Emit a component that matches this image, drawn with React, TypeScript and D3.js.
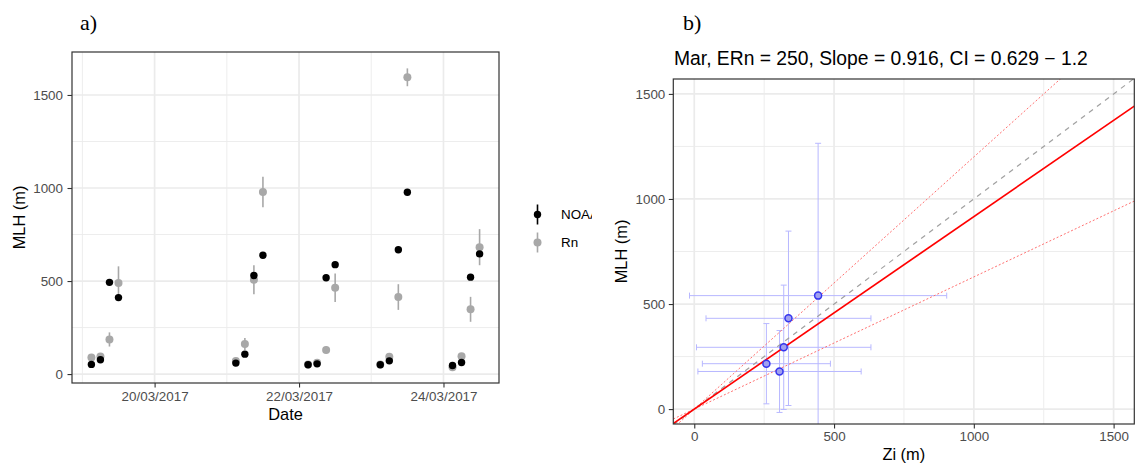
import { useEffect, useRef } from 'react';
import * as d3 from 'd3';

// panel a: MLH time series, 3-hourly samples
const sampleTimes = [
    '2017-03-19T03:00', '2017-03-19T06:00', '2017-03-19T09:00', '2017-03-19T12:00',
    '2017-03-21T03:00', '2017-03-21T06:00', '2017-03-21T09:00', '2017-03-21T12:00',
    '2017-03-22T03:00', '2017-03-22T06:00', '2017-03-22T09:00', '2017-03-22T12:00',
    '2017-03-23T03:00', '2017-03-23T06:00', '2017-03-23T09:00', '2017-03-23T12:00',
    '2017-03-24T03:00', '2017-03-24T06:00', '2017-03-24T09:00', '2017-03-24T12:00',
];
const noaaMLH = [52, 77, 493, 411, 59, 107, 530, 639, 50, 55, 518, 588, 50, 71, 668, 977, 46, 62, 521, 646];
const rnMLH = [89, 95, 186, 489, 70, 162, 507, 979, 52, 61, 130, 464, 52, 93, 414, 1595, 37, 96, 348, 682];
const rnErr = [10, 10, 38, 90, 10, 32, 78, 82, 8, 10, 18, 77, 8, 12, 69, 48, 8, 12, 67, 97];
const seriesNames = ['NOAA', 'Rn'];
const dateTicks = ['2017-03-20', '2017-03-22', '2017-03-24'];
const dateMinor = ['2017-03-19', '2017-03-21', '2017-03-23'];

// panel b: Zi vs MLH scatter
const ziValues = [443, 337, 320, 258, 305];
const ziErr = [460, 295, 312, 229, 292];
const mlhValues = [540, 432, 294, 216, 179];
const mlhErr = [725, 415, 296, 191, 195];
const fitSlope = 0.916;
const ciLow = 0.629;
const ciHigh = 1.2;
const bTitle = 'Mar, ERn = 250, Slope = 0.916, CI = 0.629 \u2212 1.2';

const majorTicks = [0, 500, 1000, 1500];
const minorTicks = [250, 750, 1250];

const FONT = 'Liberation Sans, Arial, Helvetica, sans-serif';
const GRID = '#ebebeb';
const GREY_PT = '#a8a8a8';

export default function App() {
    const svgRef = useRef<SVGSVGElement>(null);

    useEffect(() => {
        document.body.style.margin = '0';
        const svg = d3.select(svgRef.current);
        svg.selectAll('*').remove();

        const styleAxis = (g: any) => {
            g.select('.domain').remove();
            g.selectAll('line').attr('stroke', '#333333').attr('stroke-width', 1.1);
            g.selectAll('text').attr('fill', '#4d4d4d').style('font-size', '13.4px').style('font-family', FONT);
        };

        // ---------- panel a ----------
        const a = { l: 72, r: 499, t: 52, b: 383 };
        const parse = d3.utcParse('%Y-%m-%dT%H:%M');
        const parseDay = d3.utcParse('%Y-%m-%d');
        const times = sampleTimes.map(s => parse(s) as Date);
        const [t0, t1] = d3.extent(times) as [Date, Date];
        const pad = (t1.getTime() - t0.getTime()) * 0.05;
        const xa = d3.scaleUtc()
            .domain([new Date(t0.getTime() - pad), new Date(t1.getTime() + pad)])
            .range([a.l, a.r]);
        const ya = d3.scaleLinear().domain([-48, 1731]).range([a.b, a.t]);

        const ga = svg.append('g');
        ga.append('rect').attr('x', a.l).attr('y', a.t).attr('width', a.r - a.l).attr('height', a.b - a.t).attr('fill', '#fff');
        minorTicks.forEach(v => ga.append('line').attr('x1', a.l).attr('x2', a.r).attr('y1', ya(v)).attr('y2', ya(v)).attr('stroke', GRID).attr('stroke-width', 0.9));
        dateMinor.forEach(d => { const px = xa(parseDay(d) as Date); ga.append('line').attr('x1', px).attr('x2', px).attr('y1', a.t).attr('y2', a.b).attr('stroke', GRID).attr('stroke-width', 0.9); });
        majorTicks.forEach(v => ga.append('line').attr('x1', a.l).attr('x2', a.r).attr('y1', ya(v)).attr('y2', ya(v)).attr('stroke', GRID).attr('stroke-width', 1.7));
        dateTicks.forEach(d => { const px = xa(parseDay(d) as Date); ga.append('line').attr('x1', px).attr('x2', px).attr('y1', a.t).attr('y2', a.b).attr('stroke', GRID).attr('stroke-width', 1.7); });

        // Rn (grey) pointranges
        times.forEach((t, i) => {
            ga.append('line').attr('x1', xa(t)).attr('x2', xa(t))
                .attr('y1', ya(rnMLH[i] - rnErr[i])).attr('y2', ya(rnMLH[i] + rnErr[i]))
                .attr('stroke', GREY_PT).attr('stroke-width', 1.6);
            ga.append('circle').attr('cx', xa(t)).attr('cy', ya(rnMLH[i])).attr('r', 4).attr('fill', GREY_PT);
        });
        // NOAA (black) points
        times.forEach((t, i) => {
            ga.append('circle').attr('cx', xa(t)).attr('cy', ya(noaaMLH[i])).attr('r', 3.7).attr('fill', '#000');
        });

        ga.append('rect').attr('x', a.l).attr('y', a.t).attr('width', a.r - a.l).attr('height', a.b - a.t)
            .attr('fill', 'none').attr('stroke', '#333333').attr('stroke-width', 1.2);

        ga.append('g').attr('transform', `translate(${a.l},0)`)
            .call(d3.axisLeft(ya).tickValues(majorTicks).tickFormat(d3.format('d') as any).tickSize(4.5).tickPadding(4.5))
            .call(styleAxis);
        ga.append('g').attr('transform', `translate(0,${a.b})`)
            .call(d3.axisBottom(xa).tickValues(dateTicks.map(d => parseDay(d) as Date)).tickFormat(d3.utcFormat('%d/%m/%Y') as any).tickSize(4.5).tickPadding(4))
            .call(styleAxis);

        ga.append('text').attr('x', (a.l + a.r) / 2).attr('y', 420).attr('text-anchor', 'middle')
            .style('font-family', FONT).style('font-size', '16.4px').text('Date');
        ga.append('text').attr('transform', `translate(24.5,${(a.t + a.b) / 2}) rotate(-90)`).attr('text-anchor', 'middle')
            .style('font-family', FONT).style('font-size', '16.4px').text('MLH (m)');

        // legend (clipped at the panel edge like the source)
        svg.append('defs').append('clipPath').attr('id', 'legclip')
            .append('rect').attr('x', 500).attr('y', 150).attr('width', 92).attr('height', 150);
        const leg = svg.append('g').attr('clip-path', 'url(#legclip)');
        const legColors = ['#000', GREY_PT];
        seriesNames.forEach((name, i) => {
            const cy = 214.5 + i * 28;
            leg.append('line').attr('x1', 537.5).attr('x2', 537.5).attr('y1', cy - 10).attr('y2', cy + 10)
                .attr('stroke', legColors[i]).attr('stroke-width', 1.6);
            leg.append('circle').attr('cx', 537.5).attr('cy', cy).attr('r', i === 0 ? 3.7 : 4).attr('fill', legColors[i]);
            leg.append('text').attr('x', 561).attr('y', cy).attr('dy', '0.36em')
                .style('font-family', FONT).style('font-size', '13.4px').attr('fill', '#000').text(name);
        });

        // ---------- panel b ----------
        const b = { l: 673.3, r: 1134.3, t: 79, b: 424 };
        const xb = d3.scaleLinear().domain([-75, 1574]).range([b.l, b.r]);
        const yb = d3.scaleLinear().domain([-71, 1571]).range([b.b, b.t]);
        const gb = svg.append('g');
        svg.select('defs').append('clipPath').attr('id', 'bclip')
            .append('rect').attr('x', b.l).attr('y', b.t).attr('width', b.r - b.l).attr('height', b.b - b.t);

        minorTicks.forEach(v => {
            gb.append('line').attr('x1', b.l).attr('x2', b.r).attr('y1', yb(v)).attr('y2', yb(v)).attr('stroke', GRID).attr('stroke-width', 0.9);
            gb.append('line').attr('x1', xb(v)).attr('x2', xb(v)).attr('y1', b.t).attr('y2', b.b).attr('stroke', GRID).attr('stroke-width', 0.9);
        });
        majorTicks.forEach(v => {
            gb.append('line').attr('x1', b.l).attr('x2', b.r).attr('y1', yb(v)).attr('y2', yb(v)).attr('stroke', GRID).attr('stroke-width', 1.7);
            gb.append('line').attr('x1', xb(v)).attr('x2', xb(v)).attr('y1', b.t).attr('y2', b.b).attr('stroke', GRID).attr('stroke-width', 1.7);
        });

        const plot = gb.append('g').attr('clip-path', 'url(#bclip)');
        const [xd0, xd1] = xb.domain();
        const fitLine = (slope: number) =>
            plot.append('line').attr('x1', xb(xd0)).attr('y1', yb(slope * xd0)).attr('x2', xb(xd1)).attr('y2', yb(slope * xd1));

        // error bars
        const EB = '#b8b8ff';
        ziValues.forEach((zx, i) => {
            const my = mlhValues[i];
            const xl = xb(zx - ziErr[i]), xr = xb(zx + ziErr[i]), py = yb(my);
            plot.append('line').attr('x1', xl).attr('x2', xr).attr('y1', py).attr('y2', py).attr('stroke', EB).attr('stroke-width', 1);
            [xl, xr].forEach(cx => plot.append('line').attr('x1', cx).attr('x2', cx).attr('y1', py - 3).attr('y2', py + 3).attr('stroke', EB).attr('stroke-width', 1));
            const yt = yb(my + mlhErr[i]), ybt = yb(my - mlhErr[i]), px = xb(zx);
            plot.append('line').attr('x1', px).attr('x2', px).attr('y1', yt).attr('y2', ybt).attr('stroke', EB).attr('stroke-width', 1);
            [yt, ybt].forEach(cy => plot.append('line').attr('x1', px - 3).attr('x2', px + 3).attr('y1', cy).attr('y2', cy).attr('stroke', EB).attr('stroke-width', 1));
        });

        fitLine(ciLow).attr('stroke', '#ff7070').attr('stroke-width', 1).attr('stroke-dasharray', '2,2');
        fitLine(ciHigh).attr('stroke', '#ff7070').attr('stroke-width', 1).attr('stroke-dasharray', '2,2');
        fitLine(1).attr('stroke', '#a0a0a0').attr('stroke-width', 1.2).attr('stroke-dasharray', '5,5');
        fitLine(fitSlope).attr('stroke', '#ff0000').attr('stroke-width', 1.7);

        ziValues.forEach((zx, i) => {
            plot.append('circle').attr('cx', xb(zx)).attr('cy', yb(mlhValues[i])).attr('r', 3.5)
                .attr('fill', '#a0a0f0').attr('stroke', '#3535ee').attr('stroke-width', 1.5);
        });

        gb.append('rect').attr('x', b.l).attr('y', b.t).attr('width', b.r - b.l).attr('height', b.b - b.t)
            .attr('fill', 'none').attr('stroke', '#333333').attr('stroke-width', 1.2);

        gb.append('g').attr('transform', `translate(${b.l},0)`)
            .call(d3.axisLeft(yb).tickValues(majorTicks).tickFormat(d3.format('d') as any).tickSize(4.5).tickPadding(3.5))
            .call(styleAxis);
        gb.append('g').attr('transform', `translate(0,${b.b})`)
            .call(d3.axisBottom(xb).tickValues(majorTicks).tickFormat(d3.format('d') as any).tickSize(4.5).tickPadding(3.2))
            .call(styleAxis);

        gb.append('text').attr('x', (b.l + b.r) / 2).attr('y', 459.5).attr('text-anchor', 'middle')
            .style('font-family', FONT).style('font-size', '16.4px').text('Zi (m)');
        gb.append('text').attr('transform', `translate(626.5,${(b.t + b.b) / 2}) rotate(-90)`).attr('text-anchor', 'middle')
            .style('font-family', FONT).style('font-size', '16.4px').text('MLH (m)');
        gb.append('text').attr('x', 674).attr('y', 65)
            .style('font-family', FONT).style('font-size', '19.3px').text(bTitle);

        // panel letters
        svg.append('text').attr('x', 80).attr('y', 30).style('font-family', 'Liberation Serif, Times New Roman, serif').style('font-size', '22px').text('a)');
        svg.append('text').attr('x', 683).attr('y', 30).style('font-family', 'Liberation Serif, Times New Roman, serif').style('font-size', '22px').text('b)');
    }, []);

    return <svg ref={svgRef} width={1135} height={463} style={{ display: 'block', background: '#fff' }} />;
}
